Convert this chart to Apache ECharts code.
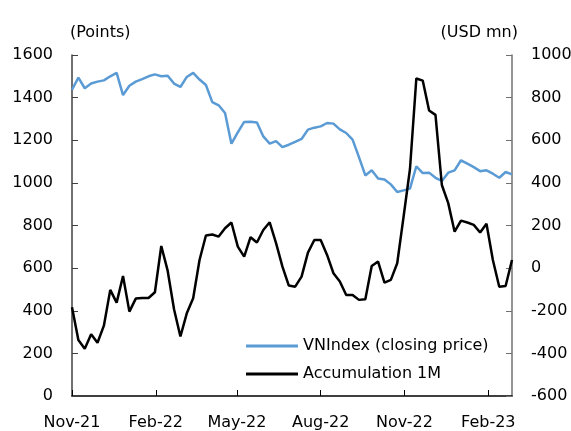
<!DOCTYPE html>
<html>
<head>
<meta charset="utf-8">
<script src="https://cdn.jsdelivr.net/npm/echarts@6/dist/echarts.min.js"></script>
<style>
  html, body { margin: 0; padding: 0; background: #fff; }
  #chart { width: 571px; height: 431px; }
</style>
</head>
<body>
<div id="chart"></div>
<script>
// weekly observation dates
const weeks = [
  '2021-11-01', '2021-11-08', '2021-11-15', '2021-11-22', '2021-11-29',
  '2021-12-06', '2021-12-13', '2021-12-20', '2021-12-27',
  '2022-01-03', '2022-01-10', '2022-01-17', '2022-01-24', '2022-01-31',
  '2022-02-07', '2022-02-14', '2022-02-21', '2022-02-28',
  '2022-03-07', '2022-03-14', '2022-03-21', '2022-03-28',
  '2022-04-04', '2022-04-11', '2022-04-18', '2022-04-25',
  '2022-05-02', '2022-05-09', '2022-05-16', '2022-05-23', '2022-05-30',
  '2022-06-06', '2022-06-13', '2022-06-20', '2022-06-27',
  '2022-07-04', '2022-07-11', '2022-07-18', '2022-07-25',
  '2022-08-01', '2022-08-08', '2022-08-15', '2022-08-22', '2022-08-29',
  '2022-09-05', '2022-09-12', '2022-09-19', '2022-09-26',
  '2022-10-03', '2022-10-10', '2022-10-17', '2022-10-24', '2022-10-31',
  '2022-11-07', '2022-11-14', '2022-11-21', '2022-11-28',
  '2022-12-05', '2022-12-12', '2022-12-19', '2022-12-26',
  '2023-01-02', '2023-01-09', '2023-01-16', '2023-01-23', '2023-01-30',
  '2023-02-06', '2023-02-13', '2023-02-20', '2023-02-27'
];

// VNIndex closing price (points, left axis)
const vnIndex = [
  1437, 1494, 1444, 1466, 1475, 1481, 1500, 1516, 1412, 1456,
  1475, 1487, 1500, 1509, 1500, 1503, 1466, 1450, 1497, 1516,
  1485, 1459, 1379, 1364, 1328, 1184, 1237, 1286, 1287, 1283,
  1218, 1184, 1196, 1168, 1179, 1192, 1206, 1250, 1259, 1265,
  1281, 1278, 1251, 1234, 1203, 1121, 1035, 1059, 1020, 1016,
  993, 957, 965, 973, 1078, 1046, 1048, 1024, 1009, 1048,
  1059, 1106, 1090, 1074, 1055, 1059, 1043, 1024, 1051, 1040
];

// foreign net flow, 1M accumulation (USD mn, right axis)
const accum1M = [
  -184, -337, -378, -310, -350, -270, -102, -162, -37, -204,
  -143, -140, -140, -113, 104, -12, -193, -321, -212, -141,
  38, 153, 158, 148, 187, 214, 101, 54, 145, 120,
  179, 215, 117, 7, -82, -87, -40, 73, 132, 132,
  62, -24, -63, -126, -126, -149, -146, 10, 31, -68,
  -55, 23, 242, 465, 890, 880, 740, 719, 390, 305,
  171, 223, 214, 203, 167, 208, 38, -87, -84, 38
];

const tickDates = ['2021-11-01', '2022-02-01', '2022-05-01', '2022-08-01', '2022-11-01', '2023-02-01'];
const tickLabels = ['Nov-21', 'Feb-22', 'May-22', 'Aug-22', 'Nov-22', 'Feb-23'];
const leftTicks = [0, 200, 400, 600, 800, 1000, 1200, 1400, 1600];
const rightTicks = [-600, -400, -200, 0, 200, 400, 600, 800, 1000];

const FONT = 'DejaVu Sans, Verdana, sans-serif';
const FS = 16;
const toTime = s => new Date(s + 'T00:00:00Z').getTime();
const tickTimes = tickDates.map(toTime);
const plain = v => String(v);

const chart = echarts.init(document.getElementById('chart'), null, { renderer: 'canvas' });

chart.setOption({
  animation: false,
  backgroundColor: '#fff',
  textStyle: { fontFamily: FONT },
  grid: {
    left: 72, right: 59, top: 55, bottom: 35,
    containLabel: false, outerBoundsMode: 'none'
  },
  graphic: [
    { type: 'text', left: 70, top: 25, style: { text: '(Points)', font: FS + 'px ' + FONT, fill: '#000' } },
    { type: 'text', right: 53, top: 25, style: { text: '(USD mn)', font: FS + 'px ' + FONT, fill: '#000' } }
  ],
  legend: {
    orient: 'vertical',
    left: 241,
    top: 333,
    icon: 'rect',
    itemWidth: 52,
    itemHeight: 3,
    itemGap: 12,
    textStyle: { fontSize: FS, color: '#000', fontFamily: FONT },
    data: ['VNIndex (closing price)', 'Accumulation 1M']
  },
  xAxis: {
    type: 'value',
    min: toTime('2021-11-01'),
    max: toTime('2023-02-27'),
    splitLine: { show: false },
    axisLine: { lineStyle: { color: '#000', width: 1.5 } },
    axisTick: { inside: true, length: 6, lineStyle: { color: '#000' }, customValues: tickTimes },
    axisLabel: {
      customValues: tickTimes,
      margin: 19,
      fontSize: FS,
      color: '#000',
      fontFamily: FONT,
      formatter: function (v) {
        const i = tickTimes.indexOf(v);
        return i >= 0 ? tickLabels[i] : '';
      }
    }
  },
  yAxis: [
    {
      type: 'value',
      min: leftTicks[0],
      max: leftTicks[leftTicks.length - 1],
      interval: 200,
      splitLine: { show: false },
      axisLine: { show: true, lineStyle: { color: '#404040', width: 1.5 } },
      axisTick: { show: true, inside: true, length: 6, lineStyle: { color: '#404040' } },
      axisLabel: { margin: 19, fontSize: FS, color: '#000', fontFamily: FONT, formatter: plain }
    },
    {
      type: 'value',
      position: 'right',
      min: rightTicks[0],
      max: rightTicks[rightTicks.length - 1],
      interval: 200,
      splitLine: { show: false },
      axisLine: { show: true, lineStyle: { color: '#707070', width: 1.5 } },
      axisTick: { show: true, inside: true, length: 6, lineStyle: { color: '#707070' } },
      axisLabel: { margin: 19, fontSize: FS, color: '#000', fontFamily: FONT, formatter: plain }
    }
  ],
  series: [
    {
      name: 'VNIndex (closing price)',
      type: 'line',
      yAxisIndex: 0,
      symbol: 'none',
      lineStyle: { color: '#5B9BD5', width: 2.5 },
      itemStyle: { color: '#5B9BD5' },
      data: weeks.map((d, i) => [toTime(d), vnIndex[i]])
    },
    {
      name: 'Accumulation 1M',
      type: 'line',
      yAxisIndex: 1,
      symbol: 'none',
      lineStyle: { color: '#000', width: 2.5 },
      itemStyle: { color: '#000' },
      data: weeks.map((d, i) => [toTime(d), accum1M[i]])
    }
  ]
});
</script>
</body>
</html>
